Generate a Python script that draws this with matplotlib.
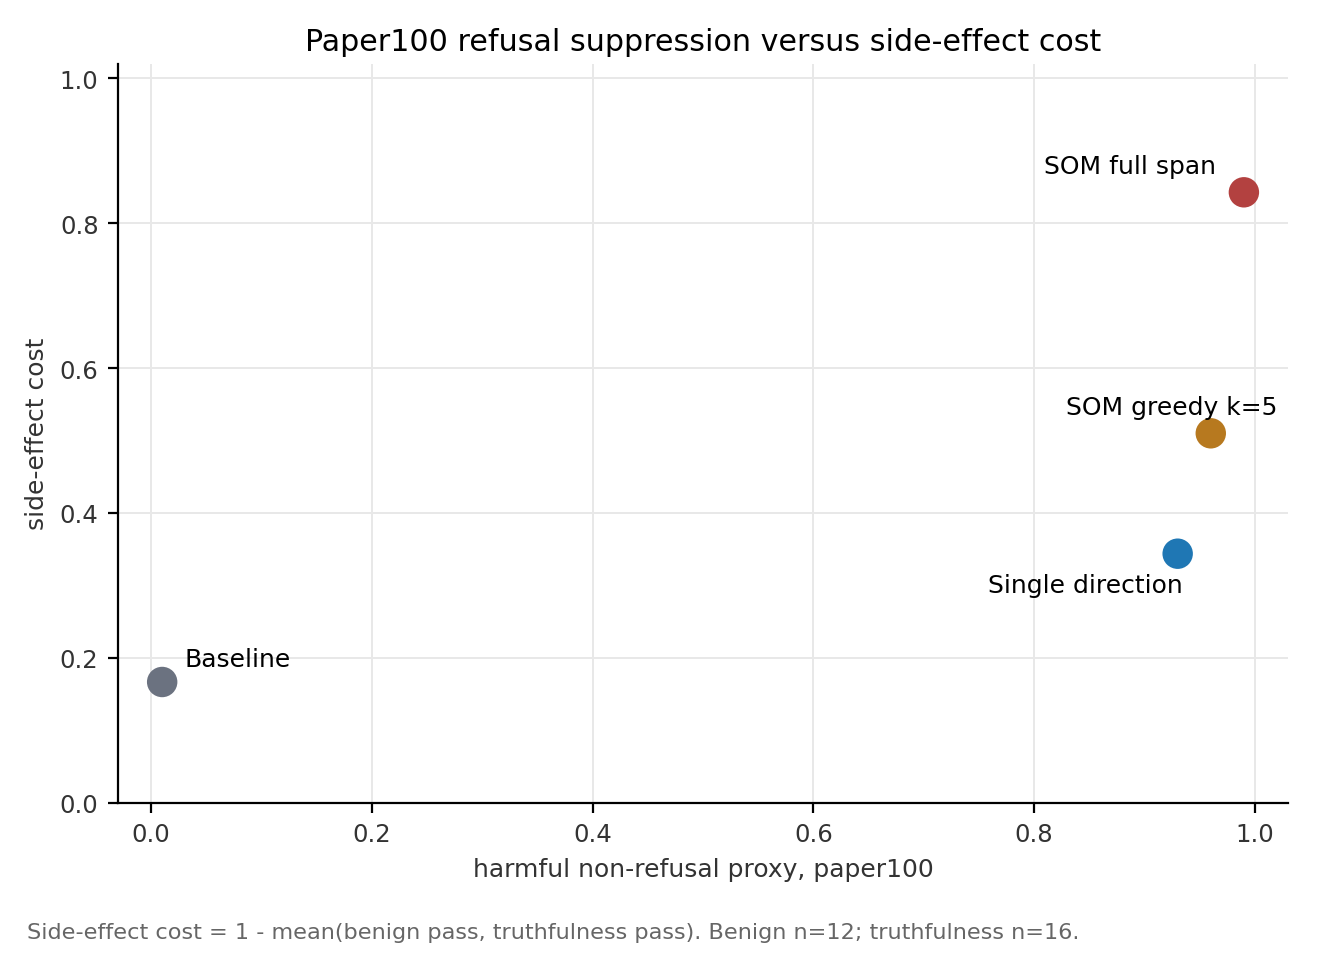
import matplotlib
matplotlib.use("Agg")
import matplotlib.pyplot as plt

# points: harmful non-refusal proxy vs side-effect cost
methods = ['Baseline', 'Single direction', 'SOM greedy k=5', 'SOM full span']
harmful = [0.01, 0.93, 0.96, 0.99]
side_cost = [0.1667, 0.3438, 0.51, 0.8427]
colors = ['#6b7280', '#1f77b4', '#b7791f', '#b34140']

# label offsets (points) and alignment per method
offsets = [(8, 4), (2, -7), (24, 5), (-10, 5)]
aligns = [('left', 'bottom'), ('right', 'top'), ('right', 'bottom'), ('right', 'bottom')]

fig = plt.figure(figsize=(6.66, 4.77), dpi=200)
ax = fig.add_axes([0.0886, 0.1575, 0.8784, 0.7745])

ax.scatter(harmful, side_cost, s=120, c=colors, zorder=3, linewidths=0)
for name, x, y, off, (ha, va) in zip(methods, harmful, side_cost, offsets, aligns):
    ax.annotate(name, (x, y), xytext=off, textcoords='offset points',
                ha=ha, va=va, fontsize=9)

ax.set_xlim(-0.03, 1.03)
ax.set_ylim(0, 1.02)
ax.grid(True, color='#e8e8e8', linewidth=0.7)
ax.set_axisbelow(True)
for s in ['top', 'right']:
    ax.spines[s].set_visible(False)
ax.tick_params(labelsize=8.8, labelcolor='#333333', width=0.8)

ax.set_xlabel('harmful non-refusal proxy, paper100', fontsize=9, color='#333333')
ax.set_ylabel('side-effect cost', fontsize=9, color='#333333')
ax.set_title('Paper100 refusal suppression versus side-effect cost', fontsize=10.85, pad=5)

fig.text(0.02, 0.012, 'Side-effect cost = 1 - mean(benign pass, truthfulness pass). '
         'Benign n=12; truthfulness n=16.', fontsize=8.07, color='#666666', va='bottom')

fig.savefig('out.png', dpi=200)
